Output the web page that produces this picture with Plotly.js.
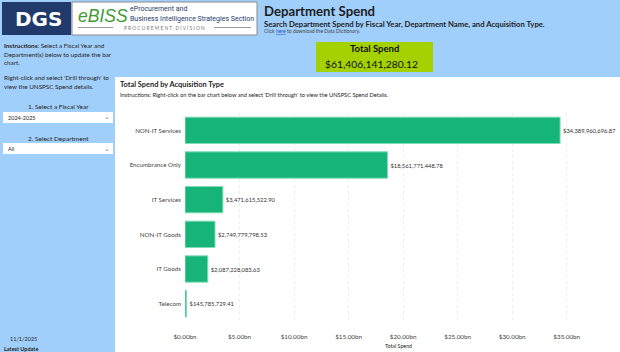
<!DOCTYPE html>
<html><head><meta charset="utf-8">
<script src="https://cdn.plot.ly/plotly-3.0.1.min.js"></script>
<style>html,body{margin:0;padding:0;background:#a1cffb;}#chart{width:620px;height:352px;}</style>
</head><body><div id="chart"></div>
<script>
const categories = ["NON-IT Services","Encumbrance Only","IT Services","NON-IT Goods","IT Goods","Telecom"];
const spendValues = [34389960696.87, 18561771448.78, 3471615522.90, 2749779798.53, 2087228083.63, 145785729.41];
const xTickValues = [0, 5e9, 10e9, 15e9, 20e9, 25e9, 30e9, 35e9];
const xTickLabels = ["$0.00bn","$5.00bn","$10.00bn","$15.00bn","$20.00bn","$25.00bn","$30.00bn","$35.00bn"];
const totalSpendText = "$61,406,141,280.12";
const fiscalYear = "2024-2025";
const department = "All";
const latestUpdate = "11/1/2025";

const W = 620, H = 352;
const px = x => x / W;
const py = y => 1 - y / H;
const FONT = "Lato, Segoe UI, sans-serif";

function ann(x, y, text, size, opts) {
  return Object.assign({
    xref: 'paper', yref: 'paper', x: px(x), y: py(y), text: text, showarrow: false,
    xanchor: 'left', yanchor: 'middle', font: {family: FONT, size: size, color: '#252423'}
  }, opts || {});
}
function rect(x0, y0, x1, y1, fill, line) {
  return {type: 'rect', xref: 'paper', yref: 'paper', x0: px(x0), x1: px(x1), y0: py(y1), y1: py(y0),
    fillcolor: fill, line: line || {width: 0}, layer: 'below'};
}
function hline(x0, x1, y, color) {
  return {type: 'line', xref: 'paper', yref: 'paper', x0: px(x0), x1: px(x1), y0: py(y), y1: py(y),
    line: {color: color, width: 1}, layer: 'above'};
}
function f(size, color, family) { return {family: family || FONT, size: size, color: color || '#252423'}; }

const trace = {
  type: 'bar', orientation: 'h',
  x: spendValues, y: categories,
  marker: {color: '#16b478', line: {color: '#7fdcb6', width: 1}},
  width: 0.76,
  texttemplate: '$%{x:,.2f}', textposition: 'outside', cliponaxis: false,
  textfont: f(5.8, '#333333'),
  hoverinfo: 'none'
};

const shapes = [
  rect(115, 77, 620, 352, '#ffffff'),
  rect(2, 2, 71, 35, '#1f3a6b'),
  rect(72, 2, 257, 35, '#ffffff', {color: '#8a8a8a', width: 1}),
  hline(78, 113, 27.5, '#9a9a9a'),
  hline(214, 251, 27.5, '#9a9a9a'),
  rect(316, 42, 433, 72, '#a4d200'),
  rect(3, 112, 113, 123, '#ffffff'),
  rect(3, 143, 113, 154, '#ffffff')
];

const annotations = [
  ann(38, 19, '<b>DGS</b>', 20, {xanchor: 'center', font: f(20, '#ffffff', 'DejaVu Sans')}),
  ann(76, 15.5, '<i>eBISS</i>', 17.5, {font: f(17.5, '#3f9b35', 'Liberation Sans')}),
  ann(128, 9.5, 'eProcurement and', 7, {font: f(7, '#1f3a6b', 'Roboto')}),
  ann(128, 18.5, 'Business Intelligence Strategies Section', 7, {font: f(7, '#1f3a6b', 'Roboto')}),
  ann(164, 28, 'P R O C U R E M E N T   D I V I S I O N', 5, {xanchor: 'center', font: f(4.8, '#777777')}),
  ann(262, 11, '<b>Department Spend</b>', 13.2, {font: f(13.2, '#1d1d1d')}),
  ann(262, 23.5, '<b>Search Department Spend by Fiscal Year, Department Name, and Acquisition Type.</b>', 7.7, {font: f(7.7, '#222222')}),
  ann(262, 31.5, 'Click <span style="color:#1a4fc4"><u>here</u></span> to download the Data Dictionary.', 5, {font: f(5, '#444444')}),
  ann(374.5, 48.5, '<b>Total Spend</b>', 9.5, {xanchor: 'center', font: f(9.5, '#111111')}),
  ann(371, 63.5, totalSpendText, 10.3, {xanchor: 'center', font: f(10.3, '#111111')}),
  ann(2, 46, '<b>Instructions:</b> Select a Fiscal Year and', 6.3, {font: f(6.3)}),
  ann(2, 54, 'Department(s) below to update the bar', 6.3, {font: f(6.3)}),
  ann(2, 62, 'chart.', 6.3, {font: f(6.3)}),
  ann(2, 78, 'Right-click and select \'Drill through\' to', 6.3, {font: f(6.3)}),
  ann(2, 86, 'view the UNSPSC Spend details.', 6.3, {font: f(6.3)}),
  ann(58, 106, '1. Select a Fiscal Year', 6.5, {xanchor: 'center', font: f(6.5)}),
  ann(6, 118, fiscalYear, 5.5, {font: f(5.5)}),
  ann(107, 117.5, '⌄', 7, {xanchor: 'center', font: f(7, '#777777', 'DejaVu Sans')}),
  ann(58, 138, '2. Select Department', 6.5, {xanchor: 'center', font: f(6.5)}),
  ann(6, 149, department, 5.5, {font: f(5.5)}),
  ann(107, 148.5, '⌄', 7, {xanchor: 'center', font: f(7, '#777777', 'DejaVu Sans')}),
  ann(8, 339, latestUpdate, 5.5, {font: f(5.5)}),
  ann(2, 349, '<b>Latest Update</b>', 5.5, {font: f(5.5)}),
  ann(118, 84, '<b>Total Spend by Acquisition Type</b>', 7.4, {font: f(7.4)}),
  ann(118, 94, 'Instructions: Right-click on the bar chart below and select \'Drill through\' to view the UNSPSC Spend Details.', 5.7, {font: f(5.7)}),
  ann(398, 345.5, 'Total Spend', 5.3, {xanchor: 'center', font: f(5.3)})
];

const layout = {
  width: W, height: H,
  margin: {l: 0, r: 0, t: 0, b: 0},
  paper_bgcolor: '#a1cffb', plot_bgcolor: 'rgba(0,0,0,0)',
  showlegend: false,
  xaxis: {
    domain: [px(185), px(594)], range: [0, 37.5e9],
    tickvals: xTickValues, ticktext: xTickLabels,
    tickfont: f(6.3, '#444444'),
    showgrid: true, gridcolor: '#eeeeee', griddash: 'dot', gridwidth: 1,
    zeroline: false, showline: false, ticks: '', ticklabelstandoff: 11,
    fixedrange: true
  },
  yaxis: {
    domain: [py(321), py(113)],
    categoryorder: 'array', categoryarray: categories.slice().reverse(),
    autorange: false, range: [-0.5, 5.5],
    tickfont: f(6.2, '#444444'),
    showgrid: false, zeroline: false, showline: false, ticks: '', ticklabelstandoff: 3,
    fixedrange: true
  },
  shapes: shapes,
  annotations: annotations
};

Plotly.newPlot('chart', [trace], layout, {displayModeBar: false, staticPlot: true});
</script>
</body></html>
